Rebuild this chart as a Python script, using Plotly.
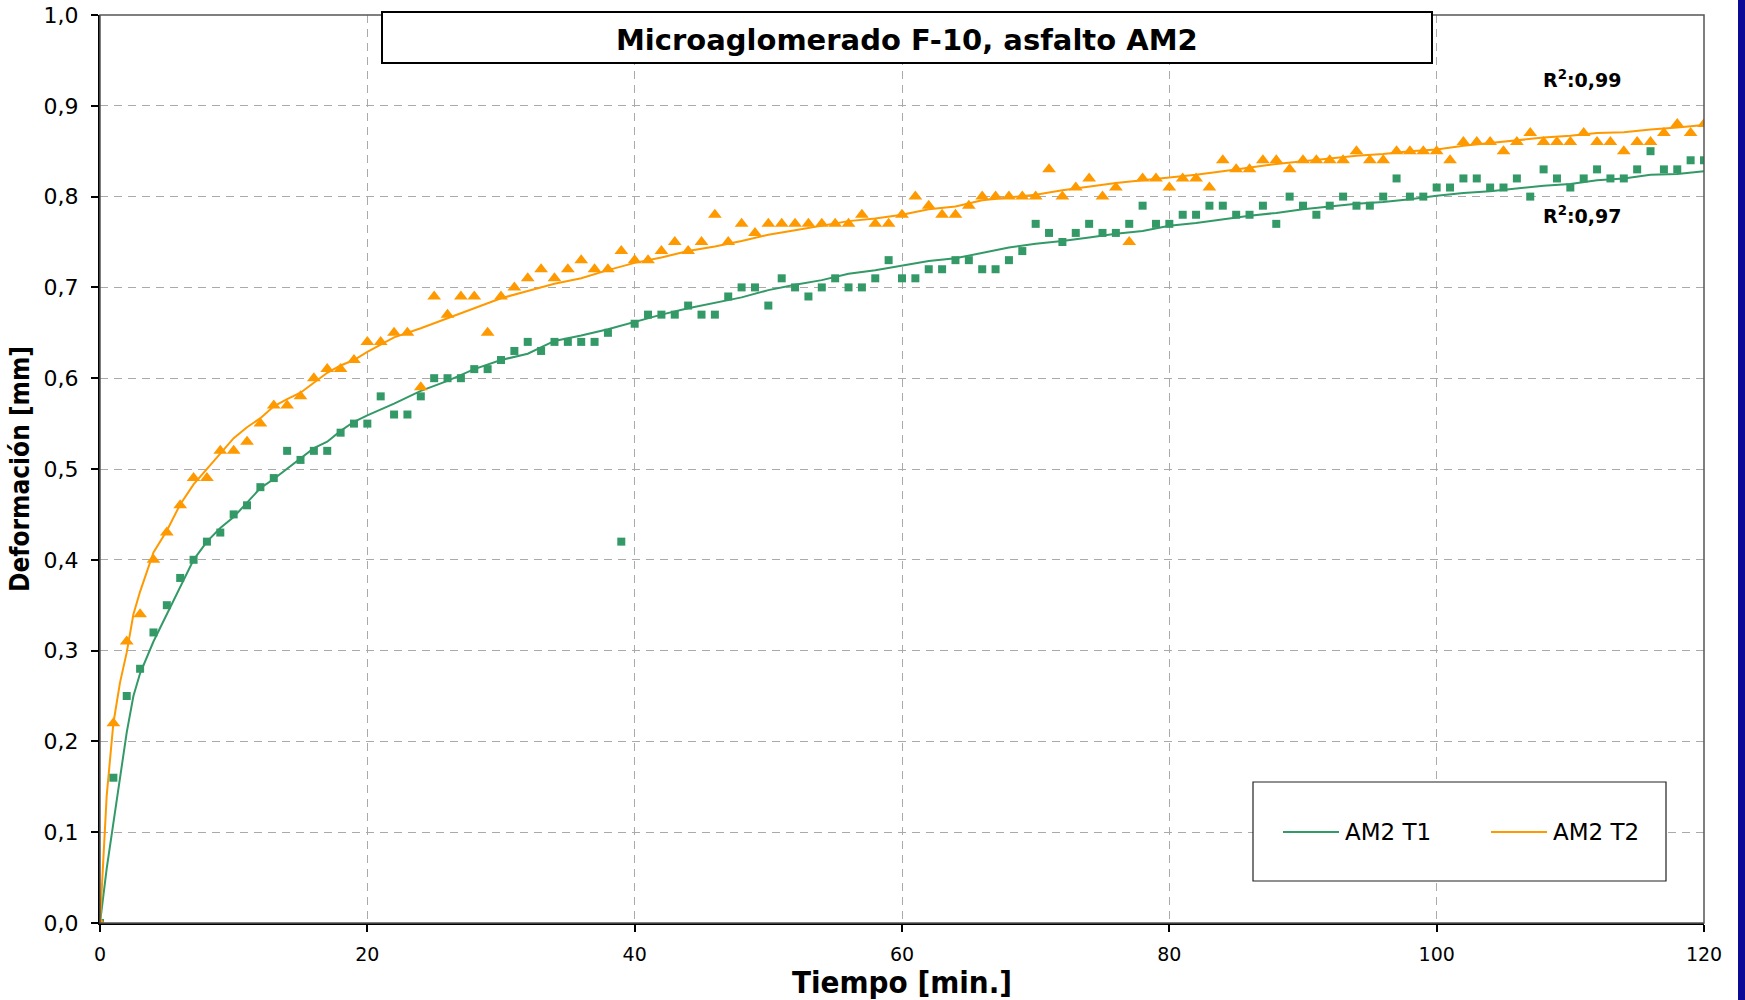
import plotly.graph_objects as go

# ---------------- data ----------------
tiempo = list(range(0, 121))

am2_t1 = [0.00, 0.16, 0.25, 0.28, 0.32, 0.35, 0.38, 0.40, 0.42, 0.43,
          0.45, 0.46, 0.48, 0.49, 0.52, 0.51, 0.52, 0.52, 0.54, 0.55,
          0.55, 0.58, 0.56, 0.56, 0.58, 0.60, 0.60, 0.60, 0.61, 0.61,
          0.62, 0.63, 0.64, 0.63, 0.64, 0.64, 0.64, 0.64, 0.65, 0.42,
          0.66, 0.67, 0.67, 0.67, 0.68, 0.67, 0.67, 0.69, 0.70, 0.70,
          0.68, 0.71, 0.70, 0.69, 0.70, 0.71, 0.70, 0.70, 0.71, 0.73,
          0.71, 0.71, 0.72, 0.72, 0.73, 0.73, 0.72, 0.72, 0.73, 0.74,
          0.77, 0.76, 0.75, 0.76, 0.77, 0.76, 0.76, 0.77, 0.79, 0.77,
          0.77, 0.78, 0.78, 0.79, 0.79, 0.78, 0.78, 0.79, 0.77, 0.80,
          0.79, 0.78, 0.79, 0.80, 0.79, 0.79, 0.80, 0.82, 0.80, 0.80,
          0.81, 0.81, 0.82, 0.82, 0.81, 0.81, 0.82, 0.80, 0.83, 0.82,
          0.81, 0.82, 0.83, 0.82, 0.82, 0.83, 0.85, 0.83, 0.83, 0.84,
          0.84]

am2_t2 = [0.00, 0.22, 0.31, 0.34, 0.40, 0.43, 0.46, 0.49, 0.49, 0.52,
          0.52, 0.53, 0.55, 0.57, 0.57, 0.58, 0.60, 0.61, 0.61, 0.62,
          0.64, 0.64, 0.65, 0.65, 0.59, 0.69, 0.67, 0.69, 0.69, 0.65,
          0.69, 0.70, 0.71, 0.72, 0.71, 0.72, 0.73, 0.72, 0.72, 0.74,
          0.73, 0.73, 0.74, 0.75, 0.74, 0.75, 0.78, 0.75, 0.77, 0.76,
          0.77, 0.77, 0.77, 0.77, 0.77, 0.77, 0.77, 0.78, 0.77, 0.77,
          0.78, 0.80, 0.79, 0.78, 0.78, 0.79, 0.80, 0.80, 0.80, 0.80,
          0.80, 0.83, 0.80, 0.81, 0.82, 0.80, 0.81, 0.75, 0.82, 0.82,
          0.81, 0.82, 0.82, 0.81, 0.84, 0.83, 0.83, 0.84, 0.84, 0.83,
          0.84, 0.84, 0.84, 0.84, 0.85, 0.84, 0.84, 0.85, 0.85, 0.85,
          0.85, 0.84, 0.86, 0.86, 0.86, 0.85, 0.86, 0.87, 0.86, 0.86,
          0.86, 0.87, 0.86, 0.86, 0.85, 0.86, 0.86, 0.87, 0.88, 0.87,
          0.88]

# trend curves
tiempo_tend = [0, 0.5, 1, 1.5, 2, 2.5, 3, 4, 5, 6, 7, 8, 9, 10, 11, 12, 13, 14, 15,
               16, 17, 18, 19, 20, 22, 24, 26, 28, 30, 32, 34, 36, 38, 40, 42, 44,
               46, 48, 50, 52, 54, 56, 58, 60, 62, 64, 66, 68, 70, 72, 74, 76, 78,
               80, 82, 84, 86, 88, 90, 92, 94, 96, 98, 100, 102, 104, 106, 108,
               110, 112, 114, 116, 118, 120]

tend_t1 = [0.000, 0.060, 0.110, 0.160, 0.210, 0.250, 0.275, 0.310, 0.340, 0.370,
           0.400, 0.420, 0.435, 0.447, 0.463, 0.479, 0.489, 0.500, 0.511, 0.523,
           0.530, 0.542, 0.552, 0.559, 0.572, 0.586, 0.597, 0.610, 0.620, 0.627,
           0.641, 0.647, 0.654, 0.662, 0.670, 0.677, 0.683, 0.689, 0.697, 0.703,
           0.708, 0.715, 0.719, 0.724, 0.729, 0.732, 0.738, 0.744, 0.748, 0.751,
           0.755, 0.759, 0.762, 0.768, 0.771, 0.775, 0.779, 0.782, 0.786, 0.789,
           0.792, 0.794, 0.797, 0.801, 0.804, 0.806, 0.809, 0.812, 0.814, 0.818,
           0.820, 0.824, 0.825, 0.828]

tend_t2 = [0.000, 0.140, 0.220, 0.265, 0.298, 0.340, 0.365, 0.408, 0.432, 0.461,
           0.483, 0.500, 0.518, 0.534, 0.546, 0.556, 0.569, 0.577, 0.584, 0.595,
           0.606, 0.614, 0.620, 0.629, 0.645, 0.655, 0.666, 0.677, 0.688, 0.696,
           0.704, 0.710, 0.719, 0.727, 0.733, 0.740, 0.745, 0.751, 0.758, 0.763,
           0.768, 0.773, 0.776, 0.780, 0.786, 0.789, 0.796, 0.799, 0.802, 0.807,
           0.811, 0.815, 0.818, 0.821, 0.824, 0.828, 0.832, 0.836, 0.839, 0.842,
           0.845, 0.847, 0.850, 0.852, 0.856, 0.859, 0.862, 0.865, 0.867, 0.870,
           0.871, 0.874, 0.876, 0.879]

series_names = ["AM2 T1", "AM2 T2"]
r2_labels = ["R<sup>2</sup>:0,97", "R<sup>2</sup>:0,99"]
chart_title = "Microaglomerado F-10, asfalto AM2"
x_title = "Tiempo [min.]"
y_title = "Deformación [mm]"

# ---------------- styling ----------------
GREEN = "#339966"
ORANGE = "#FF9900"
FONT = "DejaVu Sans, Verdana, sans-serif"
COND = "DejaVu Sans Condensed, Liberation Sans Narrow, Arial Narrow, DejaVu Sans, sans-serif"

fig = go.Figure()

fig.add_trace(go.Scatter(x=tiempo_tend, y=tend_t1, mode="lines", name=series_names[0],
                         line=dict(color=GREEN, width=2), showlegend=False))
fig.add_trace(go.Scatter(x=tiempo_tend, y=tend_t2, mode="lines", name=series_names[1],
                         line=dict(color=ORANGE, width=2), showlegend=False))
fig.add_trace(go.Scatter(x=tiempo, y=am2_t1, mode="markers", name=series_names[0],
                         marker=dict(symbol="square", size=8, color=GREEN,
                                     line=dict(width=0)), showlegend=False))
fig.add_trace(go.Scatter(x=tiempo, y=am2_t2, mode="markers", name=series_names[1],
                         marker=dict(symbol="triangle-up", size=12, color=ORANGE,
                                     line=dict(width=0)), showlegend=False))

W, H = 1745, 1000
ML, MR, MT, MB = 100, 41, 15, 77
PW, PH = W - ML - MR, H - MT - MB


def px(xpage):
    return (xpage - ML) / PW


def py(ypage):
    return (H - MB - ypage) / PH


shapes = []
# plot-area frame
shapes.append(dict(type="rect", xref="paper", yref="paper", x0=0, x1=1, y0=0, y1=1,
                   line=dict(color="#555555", width=1.5), layer="above"))
# title box
shapes.append(dict(type="rect", xref="paper", yref="paper",
                   x0=px(382), x1=px(1432), y0=py(63), y1=py(12),
                   fillcolor="white", line=dict(color="black", width=2), layer="above"))
# legend box
shapes.append(dict(type="rect", xref="paper", yref="paper",
                   x0=px(1253), x1=px(1666), y0=py(881), y1=py(782),
                   fillcolor="white", line=dict(color="#222222", width=1.2), layer="above"))
# legend line samples
shapes.append(dict(type="line", xref="paper", yref="paper",
                   x0=px(1283), x1=px(1339), y0=py(832), y1=py(832),
                   line=dict(color=GREEN, width=2), layer="above"))
shapes.append(dict(type="line", xref="paper", yref="paper",
                   x0=px(1491), x1=px(1547), y0=py(832), y1=py(832),
                   line=dict(color=ORANGE, width=2), layer="above"))
# dark blue frame edge at the right of the picture
shapes.append(dict(type="rect", xref="paper", yref="paper",
                   x0=px(1738), x1=px(1746), y0=py(1001), y1=py(-1),
                   fillcolor="#0a0a96", line=dict(width=0), layer="above"))

annotations = [
    dict(text="<b>" + chart_title + "</b>", xref="paper", yref="paper",
         x=px(907), y=py(40), showarrow=False, xanchor="center", yanchor="middle",
         font=dict(family=FONT, size=29, color="black")),
    dict(text=series_names[0], xref="paper", yref="paper", x=px(1343), y=py(832),
         showarrow=False, xanchor="left", yanchor="middle",
         font=dict(family=FONT, size=23, color="black")),
    dict(text=series_names[1], xref="paper", yref="paper", x=px(1551), y=py(832),
         showarrow=False, xanchor="left", yanchor="middle",
         font=dict(family=FONT, size=23, color="black")),
    dict(text="<b>" + r2_labels[1] + "</b>", xref="paper", yref="paper",
         x=px(1582), y=py(79), showarrow=False, xanchor="center", yanchor="middle",
         font=dict(family=FONT, size=19, color="black")),
    dict(text="<b>" + r2_labels[0] + "</b>", xref="paper", yref="paper",
         x=px(1582), y=py(215), showarrow=False, xanchor="center", yanchor="middle",
         font=dict(family=FONT, size=19, color="black")),
]

fig.update_layout(
    width=W, height=H,
    margin=dict(l=ML, r=MR, t=MT, b=MB, pad=0),
    paper_bgcolor="white", plot_bgcolor="white",
    separators=",.",
    showlegend=False,
    shapes=shapes,
    annotations=annotations,
    xaxis=dict(
        range=[0, 120], tickmode="array", tickvals=[0, 20, 40, 60, 80, 100, 120],
        automargin=False,
        showgrid=True, gridcolor="#aaaaaa", griddash="8px,6px", gridwidth=1,
        zeroline=False, showline=True, linecolor="black", linewidth=2,
        ticks="outside", ticklen=7, tickwidth=1.5, tickcolor="black",
        ticklabelstandoff=6,
        tickfont=dict(family=FONT, size=19, color="black"),
        title=dict(text="<b>" + x_title + "</b>", standoff=11,
                   font=dict(family=COND, size=31, color="black")),
    ),
    yaxis=dict(
        range=[0, 1.0], tickmode="array",
        tickvals=[0, 0.1, 0.2, 0.3, 0.4, 0.5, 0.6, 0.7, 0.8, 0.9, 1.0],
        tickformat=".1f",
        automargin=False, ticklabeloverflow="allow",
        showgrid=True, gridcolor="#aaaaaa", griddash="8px,6px", gridwidth=1,
        zeroline=False, showline=True, linecolor="black", linewidth=2,
        ticks="outside", ticklen=7, tickwidth=1.5, tickcolor="black",
        ticklabelstandoff=8,
        tickfont=dict(family=FONT, size=22, color="black"),
        title=dict(text="<b>" + y_title + "</b>", standoff=6,
                   font=dict(family=COND, size=26, color="black")),
    ),
)

# the page's default 8px body margin is removed so the figure fills the window
fig.write_html("out.html",
               config={"displayModeBar": False},
               post_script="document.body.style.margin='0';"
                           "document.body.style.overflow='hidden';")
